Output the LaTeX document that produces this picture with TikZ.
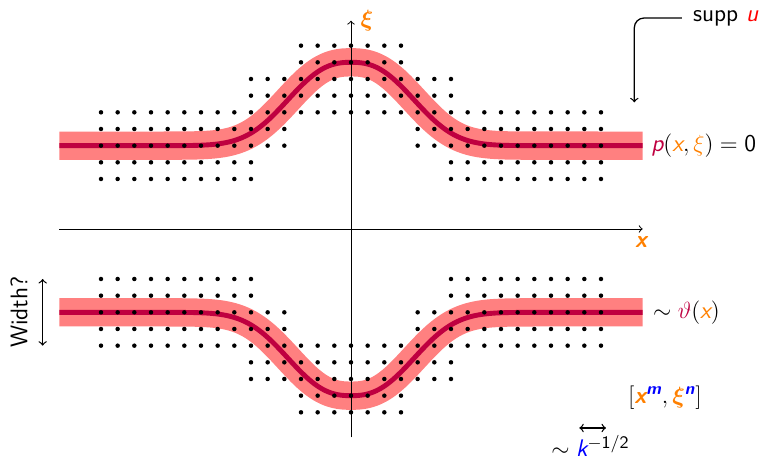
\documentclass[tikz,border=0pt]{standalone}
\usepackage{amsmath}
\usepackage[no-math]{fontspec}
\renewcommand{\familydefault}{\sfdefault}
\definecolor{bandred}{HTML}{FF8080}
\definecolor{curvecol}{HTML}{BF0040}
\definecolor{orng}{HTML}{FF8000}
\newcommand{\ox}{\textcolor{orng}{\textsf{\itshape x}}}
\newcommand{\oxi}{\textcolor{orng}{\xi}}
\newcommand{\mbx}{\textcolor{orng}{\textsf{\bfseries\itshape x}}}
\newcommand{\mbxi}{\textcolor{orng}{\boldsymbol{\xi}}}
\newcommand{\mbm}{\textcolor{blue}{\textsf{\bfseries\itshape m}}}
\newcommand{\mbn}{\textcolor{blue}{\textsf{\bfseries\itshape n}}}
\begin{document}
\begin{tikzpicture}[x=0.3cm,y=0.3cm,
  font=\sffamily\fontsize{12.3}{14.5}\selectfont,
  band/.style={line width=14.5pt, draw=bandred},
  core/.style={line width=2.5pt, draw=curvecol},
  axis/.style={->, line width=0.5pt},
  conn/.style={line width=0.65pt}]
\useasboundingbox (-21.06,-13.86) rectangle (25.14,13.74);

% bands and curves
\foreach \s in {1,-1} {
  \draw[band] (-17.5,5*\s) -- (-11,5*\s)
    -- plot[domain=-11:11, samples=133, smooth] (\x,{\s*(5+5*exp(-(abs(\x)/4.65)^2.5))})
    -- (17.5,5*\s);
}
\foreach \s in {1,-1} {
  \draw[core] (-17.5,5*\s) -- (-11,5*\s)
    -- plot[domain=-11:11, samples=133, smooth] (\x,{\s*(5+5*exp(-(abs(\x)/4.65)^2.5))})
    -- (17.5,5*\s);
}

% axes
\coordinate (xs) at (-17.5,0);
\coordinate (xe) at (17.5,0);
\coordinate (ys) at (0,-12.5);
\coordinate (ye) at (0,12.5);
\draw[axis] (xs) -- (xe);
\draw[axis] (ys) -- (ye);

% dots
\foreach \y/\a/\b in {3/6/15,4/6/15,5/4/15,6/4/15,7/0/15,8/0/6,9/0/6,10/0/3,11/0/3} {
  \foreach \x in {\a,...,\b} {
    \fill (\x,\y) circle (1.15pt) (-\x,\y) circle (1.15pt)
          (\x,-\y) circle (1.15pt) (-\x,-\y) circle (1.15pt);
  }
}

% axis labels
\node (xilab) at (0.95,12.5) {$\mbxi$};
\node (xlab) at (17.45,-0.8) {\mbx};

% supp u
\node[anchor=west, inner sep=0] (supp) at (20.5,12.66) {supp \textcolor{red}{\itshape u}};
\coordinate (suppend) at (17,7.6);
\draw[conn,->, rounded corners=5pt] ([xshift=-5.5pt]supp.west) -| (suppend);

% right labels
\node[anchor=west, inner sep=0] (peq) at (18.0,5)
  {$\textcolor{curvecol}{\textsf{\itshape p}}(\ox,\oxi) = \textsf{0}$};
\node[anchor=west, inner sep=0] (theta) at (18.1,-5)
  {$\sim \textcolor{curvecol}{\vartheta}(\ox)$};
\node[anchor=west, inner sep=0] (brk) at (16.6,-10.1)
  {$[\mbx^{\mbm}, \mbxi^{\mbn}]$};
\node[anchor=base west, inner sep=0] (kk) at (12.0,-13.66)
  {$\sim \textcolor{blue}{\textsf{\itshape k}}^{-\mathsf{1}/\mathsf{2}}$};
\coordinate (ka) at (13.7,-11.94);
\coordinate (kb) at (15.3,-11.94);
\draw[conn,<->] (ka) -- (kb);

% width
\node[rotate=90] (wd) at (-19.92,-5) {Width?};
\coordinate (wt) at (-18.5,-3);
\coordinate (wb) at (-18.5,-7);
\draw[conn,<->] (wt) -- (wb);
\end{tikzpicture}
\end{document}
